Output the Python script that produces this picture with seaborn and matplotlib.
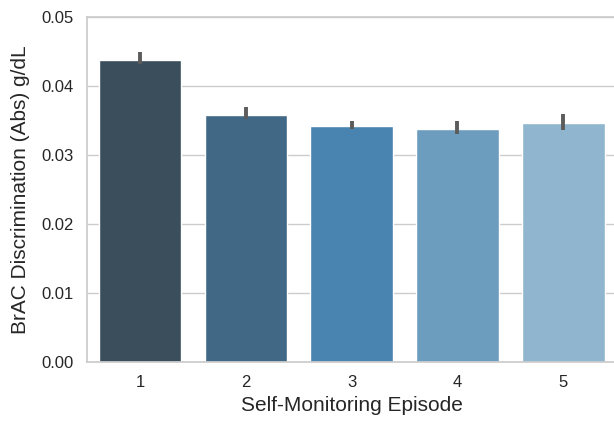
import matplotlib
matplotlib.use("Agg")
import matplotlib.pyplot as plt
import seaborn as sns
import pandas as pd
import numpy as np

# data
episodes = ["1", "2", "3", "4", "5"]
discrimination = [0.0438, 0.03575, 0.0342, 0.0337, 0.0347]
ci_low = [0.0432, 0.0352, 0.0337, 0.0331, 0.0336]
ci_high = [0.0449, 0.0370, 0.0350, 0.0350, 0.0360]

sns.set_theme(style="whitegrid", context="notebook")
plt.rcParams['font.family'] = ['Liberation Sans', 'DejaVu Sans']

df = pd.DataFrame({"episode": episodes, "brac": discrimination})
colors = sns.color_palette("Blues_d", len(episodes))[::-1]

fig = plt.figure(figsize=(6.14, 4.21), dpi=100)
ax = fig.add_axes([0.1417, 0.140, 0.862, 0.8196])

sns.barplot(data=df, x="episode", y="brac", hue="episode", palette=colors,
            legend=False, errorbar=None, width=0.78, ax=ax)

means = np.array(discrimination)
yerr = [means - np.array(ci_low), np.array(ci_high) - means]
ax.errorbar(np.arange(len(episodes)), means, yerr=yerr, fmt="none",
            ecolor=".36", elinewidth=2.8, capsize=0, zorder=5)

ax.set_xlim(-0.5, len(episodes) - 0.5)
ax.set_ylim(0, 0.05)
ax.set_yticks([0.0, 0.01, 0.02, 0.03, 0.04, 0.05])
ax.set_yticklabels(["0.00", "0.01", "0.02", "0.03", "0.04", "0.05"])
ax.tick_params(axis="both", labelsize=12)
ax.set_xlabel("Self-Monitoring Episode", fontsize=15)
ax.set_ylabel("BrAC Discrimination (Abs) g/dL", fontsize=15, labelpad=8)
ax.xaxis.grid(False)

fig.savefig("out.png", dpi=100)
